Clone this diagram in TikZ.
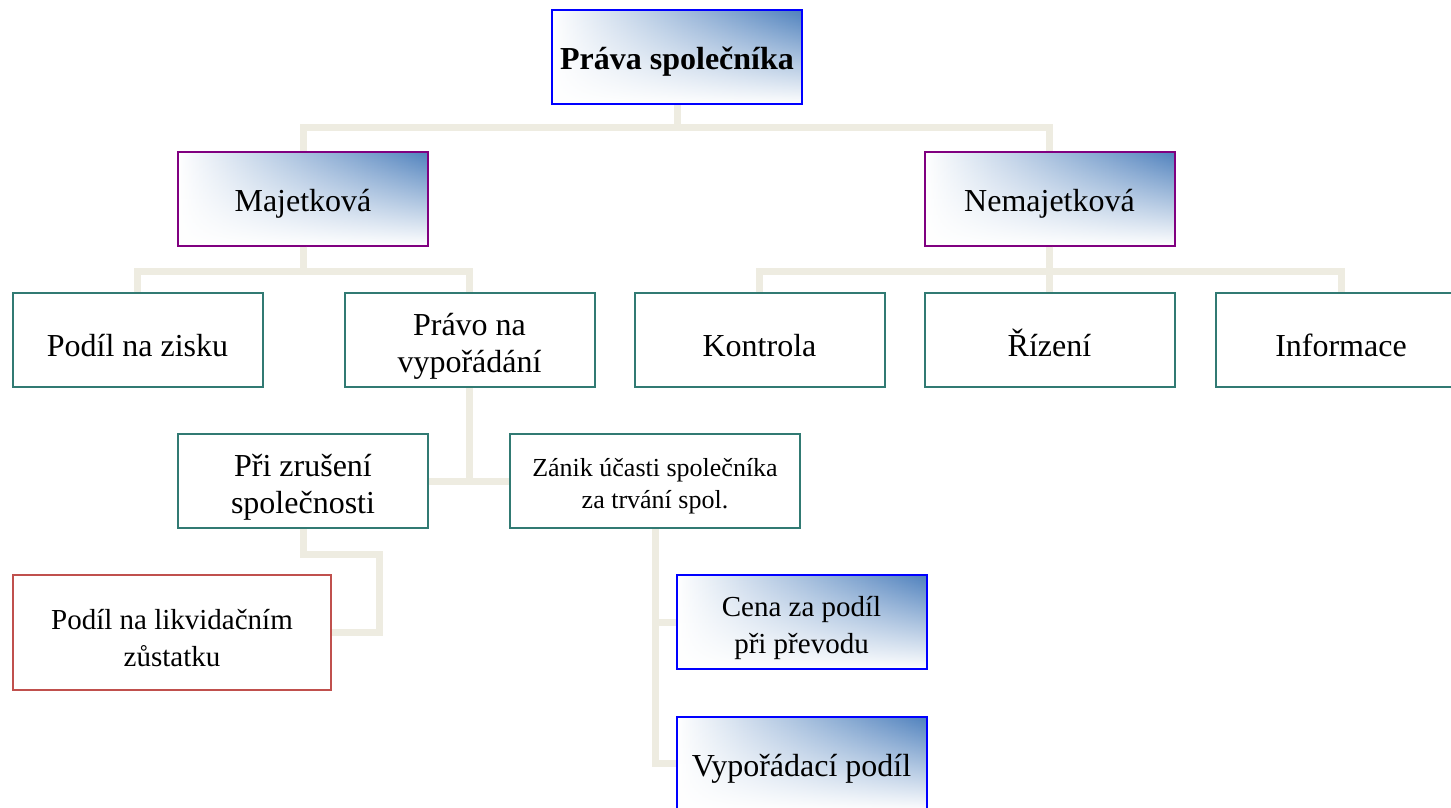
\documentclass[tikz,border=0pt]{standalone}
\usepackage{fontspec}
\setmainfont{Liberation Serif}
\usetikzlibrary{fadings}
\definecolor{linkc}{RGB}{238,236,225}
\definecolor{tealc}{RGB}{49,122,115}
\definecolor{purpc}{RGB}{128,0,128}
\definecolor{bluec}{RGB}{0,0,255}
\definecolor{redc}{RGB}{192,80,77}
\definecolor{shadec}{RGB}{79,129,189}
\newcommand{\firststrut}{\rule{0pt}{1.1em}}
\tikzfading[name=fadeup, top color=transparent!100, bottom color=transparent!0]
\tikzset{box/.style={draw, line width=2pt, minimum width=250pt, minimum height=94pt, align=center, inner sep=0pt, fill=white,
    font=\fontsize{32}{37}\selectfont, execute at begin node={\rule{0pt}{1.02em}}},
  plainbox/.style={box, draw=tealc},
  shadebox/.style={box, path picture={
      \shade[left color=white, middle color=shadec!40!white, right color=shadec]
        (path picture bounding box.south west) rectangle (path picture bounding box.north east);
      \fill[white, path fading=fadeup]
        (path picture bounding box.south west) rectangle (path picture bounding box.north east);}},
  conn/.style={draw=linkc, line width=7pt}}

\begin{document}
\begin{tikzpicture}[x=1pt,y=-1pt]
   \useasboundingbox (0,0) rectangle (1451,808);
   % top levels
   \node[shadebox,draw=bluec,font=\fontsize{32}{37}\selectfont\bfseries] (prava) at (677,57) {Práva společníka};
   \node[shadebox,draw=purpc] (maj) at (303,198.5) {Majetková};
   \node[shadebox,draw=purpc] (nemaj) at (1049.5,198.5) {Nemajetková};
   \node[plainbox] (zisk) at (137.5,340) {Podíl na zisku};
   \node[plainbox] (pravo) at (469.5,340) {\firststrut Právo na\\vypořádání};
   \node[plainbox] (kontr) at (759.5,340) {Kontrola};
   \node[plainbox] (rizeni) at (1049.5,340) {Řízení};
   \node[plainbox] (info) at (1341,340) {Informace};
   % vyporadani
   \node[plainbox] (zrus) at (303,481) {\firststrut Při zrušení\\společnosti};
   \node[plainbox,minimum width=290pt,font=\fontsize{26}{32}\selectfont] (zanik) at (655,481) {\firststrut Zánik účasti společníka\\za trvání spol.};
   \node[box,draw=redc,minimum width=318pt,minimum height=115pt,font=\fontsize{29}{37}\selectfont] (likv) at (172,632.5) {\firststrut Podíl na likvidačním\\zůstatku};
   \node[shadebox,draw=bluec,font=\fontsize{29}{37}\selectfont] (cena) at (801.5,622) {\firststrut Cena za podíl\\při převodu};
   \node[shadebox,draw=bluec] (vyp) at (801.5,763.5) {Vypořádací podíl};
   % connectors
   \draw[conn] (prava.south) -- ++(0,26);
   \draw[conn] (maj.north) -- ++(0,-23) -| (nemaj.north);
   \draw[conn] (maj.south) -- ++(0,26);
   \draw[conn] (zisk.north) -- ++(0,-21) -| (pravo.north);
   \draw[conn] (nemaj.south) -- (rizeni.north);
   \draw[conn] (kontr.north) -- ++(0,-21) -| (info.north);
   \draw[conn] (pravo.south) -- (pravo.south |- zrus.east);
   \draw[conn] (zrus.east) -- (zanik.west);
   \draw[conn] (zrus.south) -- ++(0,25) -| ([xshift=47pt]likv.east) -- (likv.east);
   \draw[conn] (zanik.south) |- (cena.west);
   \draw[conn] (zanik.south) |- (vyp.west);
\end{tikzpicture}
\end{document}
